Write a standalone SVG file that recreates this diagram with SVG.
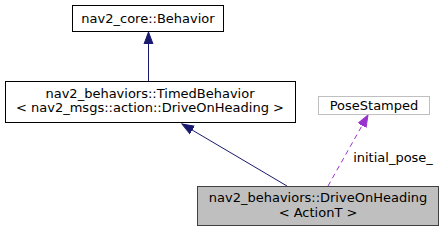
<svg xmlns="http://www.w3.org/2000/svg" width="443" height="232" viewBox="0 0 443 232">
<style>
text{font-family:"DejaVu Sans",sans-serif;font-size:13px;fill:#000;text-anchor:middle}
.box{fill:#fff;stroke:#000;stroke-width:1}
.ext{fill:#fff;stroke:#bfbfbf;stroke-width:1}
.cur{fill:#bfbfbf;stroke:#404040;stroke-width:1}
.inh{fill:none;stroke:#191970;stroke-width:1}
.use{fill:none;stroke:#9a32cd;stroke-width:1;stroke-dasharray:5,4}
</style>
<defs>
<marker id="ah" markerWidth="13" markerHeight="12" refX="12" refY="6" orient="auto" markerUnits="userSpaceOnUse"><path d="M0,1.5 L12,6 L0,10.5 Z" fill="#191970" stroke="#191970"/></marker>
<marker id="ap" markerWidth="13" markerHeight="12" refX="12" refY="6" orient="auto" markerUnits="userSpaceOnUse"><path d="M0,1.5 L12,6 L0,10.5 Z" fill="#9a32cd" stroke="#9a32cd"/></marker>
</defs>
<rect width="443" height="232" fill="#fff"/>
<g id="connectors">
<path class="inh" d="M148.5,81 L148.5,32" marker-end="url(#ah)"/>
<path class="inh" d="M287,186 L182,124" marker-end="url(#ah)"/>
<path class="use" d="M328,186 L368,115" marker-end="url(#ap)"/>
<text x="393" y="162">initial_pose_</text>
</g>
<g id="node_behavior">
<rect class="box" x="72.5" y="5.5" width="151" height="26"/>
<text x="148" y="23">nav2_core::Behavior</text>
</g>
<g id="node_timed">
<rect class="box" x="5.5" y="81.5" width="290" height="41"/>
<text x="150" y="98">nav2_behaviors::TimedBehavior</text>
<text x="150" y="112">&lt; nav2_msgs::action::DriveOnHeading &gt;</text>
</g>
<g id="node_pose">
<rect class="ext" x="318.5" y="96.5" width="111" height="18"/>
<text x="374" y="110">PoseStamped</text>
</g>
<g id="node_drive">
<rect class="cur" x="197.5" y="186.5" width="241" height="39"/>
<text x="318" y="202">nav2_behaviors::DriveOnHeading</text>
<text x="318" y="217">&lt; ActionT &gt;</text>
</g>
</svg>
